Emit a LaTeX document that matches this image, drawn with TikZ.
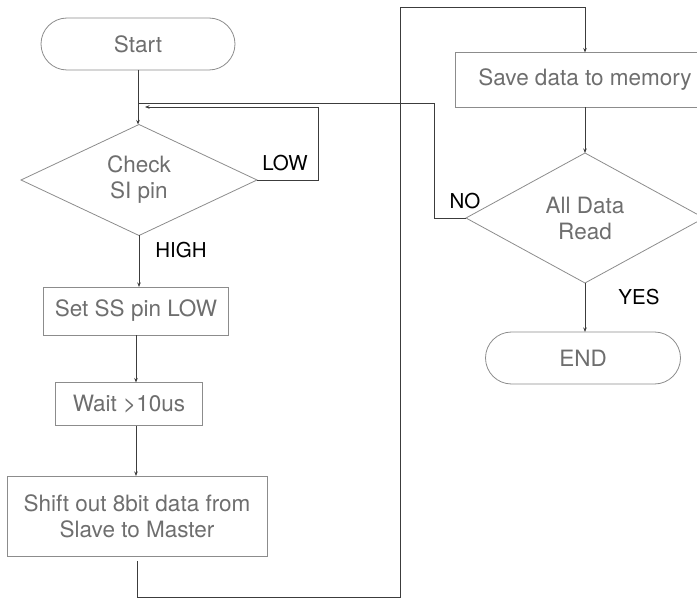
\documentclass[tikz,border=0pt]{standalone}
\usepackage{fontspec}
\setmainfont{TeX Gyre Heros}
\usetikzlibrary{calc,shapes.geometric,arrows.meta}

\definecolor{boxgray}{HTML}{8C8C8C}
\definecolor{txtgray}{HTML}{6E6E6E}
\definecolor{linegray}{HTML}{3C3C3C}
\newcommand{\flowfont}{\fontsize{22.5}{26}\selectfont}
\newcommand{\branchfont}{\fontsize{20.5}{23}\selectfont}

\begin{document}
\begin{tikzpicture}[x=1pt,y=1pt,every node/.style={outer sep=0pt}]
\tikzset{
    terminal/.style = {draw=boxgray,line width=0.8pt,rounded corners=26pt,minimum width=194pt,
                        minimum height=52pt,text=txtgray,font=\flowfont},
    process/.style  = {draw=boxgray,line width=0.8pt,inner sep=0pt,text=txtgray,font=\flowfont,
                        align=center},
    decision/.style = {diamond,draw=boxgray,line width=0.8pt,inner sep=0pt,aspect=2,text=txtgray,
                        font=\flowfont,align=center},
    flow/.style     = {draw=linegray,line width=0.8pt},
    arrow/.style    = {flow,-{Stealth[length=4.5pt,width=3.5pt]}},
    branch/.style   = {font=\branchfont,text=black}
}

\useasboundingbox (0,0) rectangle (697,-599);

%% left column
\node (start) [terminal] at (138,-44) {Start};
\node (check) [decision,minimum width=236pt,minimum height=111pt] at (139,-180) {Check\\SI pin};
\node (setss) [process,minimum width=185pt,minimum height=48pt] at (136,-311) {Set SS pin LOW};
\node (wait)  [process,minimum width=147pt,minimum height=43pt] at (129,-404) {Wait >10us};
\node (shift) [process,minimum width=260pt,minimum height=80pt] at (137,-516)
        {Shift out 8bit data from\\Slave to Master};

%% right column
\node (save)  [process,minimum width=260pt,minimum height=55pt] at (585,-80) {Save data to memory};
\node (data)  [decision,minimum width=238pt,minimum height=130pt] at (585,-218) {All Data\\Read};
\node (done)  [terminal,minimum width=195pt] at (583,-358) {END};

%% join points on the main line
\coordinate (nojoin)  at (139,-103);
\coordinate (lowjoin) at (145,-107);

\draw [arrow] (start.south) -- (start.south |- check.north);
\draw [arrow] (check.south) -- (check.south |- setss.north);
\node [branch] at (181,-250) {HIGH};
\draw [arrow] (setss.south) -- (setss.south |- wait.north);
\draw [arrow] (setss.south |- wait.south) -- (setss.south |- shift.north);

%% LOW loop back to the check
\draw [arrow] (check.east) -- ++(61,0) |- (lowjoin);
\node [branch] at (285,-163) {LOW};

%% from the shift over to the save
\draw [arrow] ([yshift=-5pt]shift.south) -- ++(0,-36) -| (400,-7) -| (save.north);
\draw [arrow] (save.south) -- (data.north);

%% NO loop and the YES exit
\draw [flow] (data.west) -- ++(-32,0) |- (nojoin);
\node [branch] at (465,-201) {NO};
\draw [arrow] (data.south) -- (data.south |- done.north);
\node [branch] at (639,-297) {YES};

\end{tikzpicture}
\end{document}
